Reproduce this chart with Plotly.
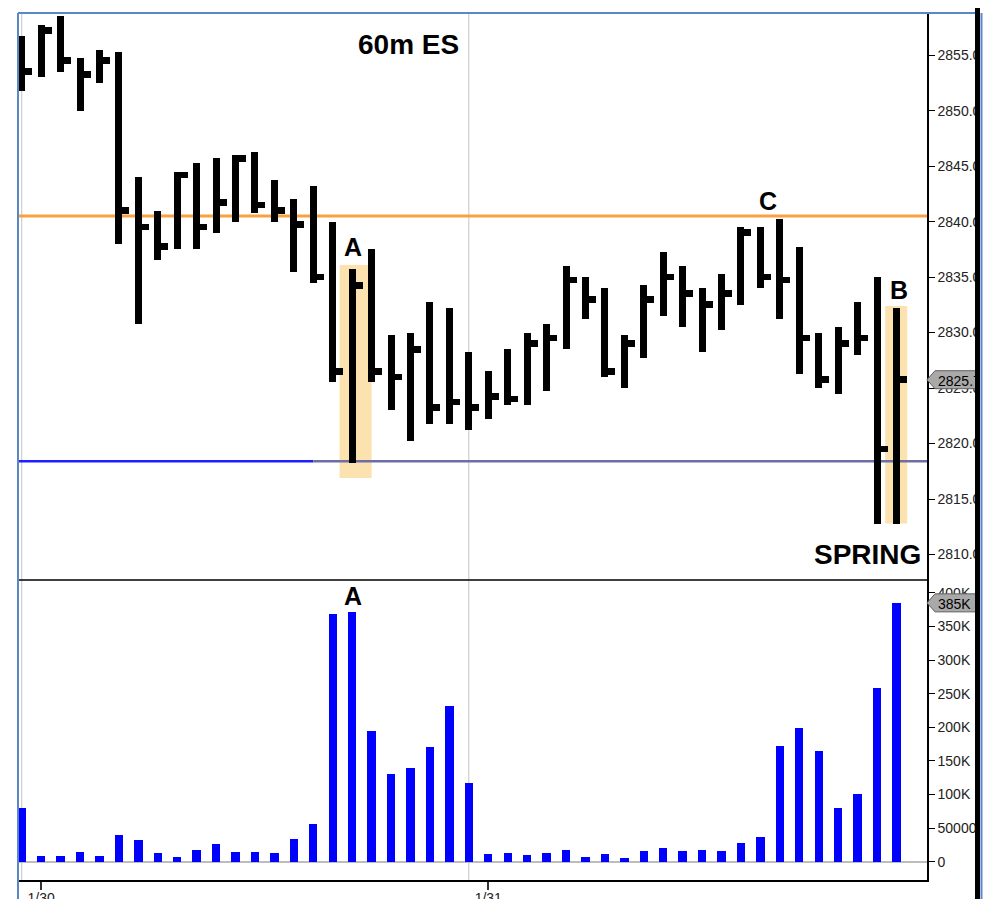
import plotly.graph_objects as go

# ---------------- data ----------------
bar_index = list(range(46))
highs = [2856.75, 2857.75, 2858.5, 2854.75, 2855.5, 2855.25, 2844.0, 2841.0, 2844.5, 2845.25,
         2845.75, 2846.0, 2846.25, 2843.75, 2842.0, 2843.25, 2840.0, 2835.75, 2837.5, 2829.75,
         2830.0, 2832.75, 2832.25, 2828.25, 2826.5, 2828.5, 2830.0, 2830.75, 2836.0, 2835.0,
         2834.0, 2829.75, 2834.25, 2837.25, 2836.0, 2834.0, 2835.25, 2839.5, 2839.5, 2840.25,
         2837.75, 2830.0, 2830.5, 2832.75, 2835.0, 2832.25]
lows = [2851.75, 2853.0, 2853.5, 2850.0, 2852.5, 2838.0, 2830.75, 2836.5, 2837.5, 2837.5,
        2839.0, 2840.0, 2840.75, 2840.0, 2835.5, 2834.5, 2825.5, 2818.25, 2825.5, 2823.0,
        2820.25, 2821.75, 2821.75, 2821.25, 2822.25, 2823.5, 2823.5, 2824.75, 2828.5, 2831.25,
        2826.0, 2825.0, 2827.75, 2831.5, 2830.5, 2828.25, 2830.25, 2832.5, 2834.0, 2831.25,
        2826.25, 2825.0, 2824.5, 2828.0, 2812.75, 2812.75]
closes = [2853.5, 2857.25, 2854.5, 2853.25, 2854.5, 2841.0, 2839.5, 2837.75, 2844.25, 2839.5,
          2841.75, 2845.75, 2841.5, 2841.0, 2839.75, 2835.0, 2826.5, 2834.25, 2826.5, 2826.0,
          2828.5, 2823.25, 2823.75, 2823.25, 2824.25, 2824.0, 2829.0, 2829.5, 2834.75, 2833.0,
          2826.5, 2829.0, 2833.0, 2835.0, 2833.5, 2832.5, 2833.5, 2839.0, 2835.0, 2834.75,
          2829.5, 2825.75, 2829.0, 2829.5, 2819.5, 2825.75]
volumes = [79400, 8900, 8900, 14900, 8900, 39700, 31800, 12900, 7000, 16900,
           25800, 14900, 14900, 12900, 33800, 56500, 367900, 371800, 194400, 130900,
           138900, 170100, 232000, 116600, 11000, 13400, 9500, 13400, 17400, 7000,
           11000, 5000, 15500, 19900, 15500, 17400, 15500, 27800, 36300, 172000,
           198800, 164200, 79400, 100200, 258700, 385000]

date_tick_bars = [1, 24]
date_tick_labels = ["1/30", "1/31"]
session_start_bars = [0, 23]

price_ticks = [2810, 2815, 2820, 2825, 2830, 2835, 2840, 2845, 2850, 2855]
volume_ticks = [0, 50000, 100000, 150000, 200000, 250000, 300000, 350000, 400000]
volume_tick_labels = ["0", "50000", "100K", "150K", "200K", "250K", "300K", "350K", "400K"]

resistance_level = 2840.5
support_level = 2818.4
support_split_bar = 15

# highlight boxes (x0, x1, y0, y1) in bar/price units
highlights = [(16.35, 18.0, 2816.9, 2836.1), (44.42, 45.55, 2812.8, 2832.4)]

# ---------------- layout geometry ----------------
OFF = 8                       # page body margin
W, H = 991 - OFF, 899 - OFF
ML, MR, MT, MB = 19 - OFF, 64, 13 - OFF, 19
PW = W - ML - MR
PH = H - MT - MB
VOL_FRAC = 300 / PH
x_range = [-0.14, 46.57]
price_range = [2807.7, 2858.8]
vol_range = [-27200, 419000]

def px_x(px):  # page pixel -> paper x
    return (px - OFF - ML) / PW

def px_y(py):  # page pixel -> paper y
    return (H - MB - (py - OFF)) / PH

FONT = "Arial, 'Liberation Sans', sans-serif"

# ---------------- traces ----------------
hl_base = lows
hl_len = [h - l for h, l in zip(highs, lows)]
tick_h = 0.6
tick_base = [min(max(c - tick_h / 2, l), h - tick_h) for c, l, h in zip(closes, lows, highs)]

fig = go.Figure()
fig.add_trace(go.Bar(x=bar_index, y=hl_len, base=hl_base, width=0.36,
                     marker=dict(color="black", line=dict(width=0)),
                     xaxis="x", yaxis="y", hoverinfo="skip", showlegend=False))
fig.add_trace(go.Bar(x=bar_index, y=[tick_h] * len(bar_index), base=tick_base, width=0.54,
                     offset=0, marker=dict(color="black", line=dict(width=0)),
                     xaxis="x", yaxis="y", hoverinfo="skip", showlegend=False))
fig.add_trace(go.Bar(x=bar_index, y=volumes, width=0.43,
                     marker=dict(color="#0000FF", line=dict(width=0)),
                     xaxis="x", yaxis="y2", hoverinfo="skip", showlegend=False))

# ---------------- shapes ----------------
shapes = []
for (x0, x1, y0, y1) in highlights:
    shapes.append(dict(type="rect", xref="x", yref="y", x0=x0, x1=x1, y0=y0, y1=y1,
                       fillcolor="#FCE2AE", line=dict(width=0), layer="below"))
for b in session_start_bars:
    shapes.append(dict(type="line", xref="x", yref="paper", x0=b, x1=b, y0=0, y1=1,
                       line=dict(color="#C4C4C4", width=1), layer="below"))
shapes.append(dict(type="line", xref="paper", yref="y", x0=0, x1=1,
                   y0=resistance_level, y1=resistance_level,
                   line=dict(color="#F9A03F", width=3), layer="below"))
shapes.append(dict(type="line", xref="x", yref="y", x0=x_range[0], x1=support_split_bar,
                   y0=support_level, y1=support_level,
                   line=dict(color="#1F1FFF", width=2.5), layer="below"))
shapes.append(dict(type="line", xref="x", yref="y", x0=support_split_bar, x1=x_range[1],
                   y0=support_level, y1=support_level,
                   line=dict(color="#6E6EA6", width=2.5), layer="below"))
# pane separator
shapes.append(dict(type="line", xref="paper", yref="paper", x0=0, x1=1,
                   y0=VOL_FRAC, y1=VOL_FRAC, line=dict(color="black", width=1.5)))
# last value markers
last_close = closes[-1]
last_vol = volumes[-1]
ph = 9 / (PH * (1 - VOL_FRAC)) * (price_range[1] - price_range[0])
vh = 9 / (PH * VOL_FRAC) * (vol_range[1] - vol_range[0])
xa, xb, xc = px_x(927), px_x(935), px_x(980)
for val, hh, yref, txt in [(last_close, ph, "y", f"{last_close:.2f}"),
                           (last_vol, vh, "y2", f"{round(last_vol / 1000)}K")]:
    path = (f"M {xa},{val} L {xb},{val + hh} L {xc},{val + hh} "
            f"L {xc},{val - hh} L {xb},{val - hh} Z")
    shapes.append(dict(type="path", xref="paper", yref=yref, path=path,
                       fillcolor="#A9A9A9", line=dict(color="#5E5E5E", width=1),
                       label=dict(text=txt, font=dict(family=FONT, size=14, color="black"),
                                  textposition="middle left", padding=8)))
# right black border + white margin
shapes.append(dict(type="rect", xref="paper", yref="paper", x0=px_x(975), x1=px_x(980),
                   y0=px_y(905), y1=px_y(0), fillcolor="black", line=dict(width=0)))
shapes.append(dict(type="rect", xref="paper", yref="paper", x0=px_x(980), x1=px_x(995),
                   y0=px_y(905), y1=px_y(0), fillcolor="white", line=dict(width=0)))
shapes.append(dict(type="line", xref="paper", yref="paper", x0=px_x(981.5), x1=px_x(981.5),
                   y0=px_y(905), y1=px_y(13), line=dict(color="#5B87C7", width=2)))
# blue frame top and left
shapes.append(dict(type="line", xref="paper", yref="paper", x0=px_x(18), x1=px_x(975),
                   y0=px_y(13), y1=px_y(13), line=dict(color="#5B87C7", width=2)))
shapes.append(dict(type="line", xref="paper", yref="paper", x0=px_x(18), x1=px_x(18),
                   y0=px_y(13), y1=px_y(905), line=dict(color="#5B87C7", width=2)))

# ---------------- annotations ----------------
def label(text, x, y, size, yref="y"):
    return dict(text=f"<b>{text}</b>", x=x, y=y, xref="x", yref=yref, showarrow=False,
                font=dict(family=FONT, size=size, color="black"),
                xanchor="center", yanchor="middle")

annotations = [
    label("60m ES", 19.9, 2856.0, 28),
    label("A", 17.05, 2837.7, 25),
    label("C", 38.4, 2841.9, 25),
    label("B", 45.13, 2833.8, 25),
    label("SPRING", 43.5, 2810.0, 28),
    label("A", 17.05, 395000, 25, yref="y2"),
]

fig.update_layout(
    width=W, height=H, autosize=False,
    margin=dict(l=ML, r=MR, t=MT, b=MB, pad=0, autoexpand=False),
    paper_bgcolor="white", plot_bgcolor="white",
    barmode="overlay", bargap=0, showlegend=False,
    font=dict(family=FONT, size=14, color="#222222"),
    xaxis=dict(domain=[0, 1], anchor="y2", range=x_range, tickmode="array",
               tickvals=date_tick_bars, ticktext=date_tick_labels, automargin=False,
               ticks="outside", ticklen=8, tickwidth=1.5, tickcolor="#333333",
               ticklabelstandoff=-4,
               showline=True, linecolor="black", linewidth=1.5,
               showgrid=False, zeroline=False, tickfont=dict(size=14, color="#222222")),
    yaxis=dict(domain=[VOL_FRAC, 1], anchor="x", side="right", range=price_range,
               tickmode="array", tickvals=price_ticks, tickformat=".1f", automargin=False,
               ticks="outside", ticklen=6, tickwidth=1, tickcolor="black",
               showline=True, linecolor="black", linewidth=1.5,
               showgrid=False, zeroline=False, tickfont=dict(size=14, color="#222222")),
    yaxis2=dict(domain=[0, VOL_FRAC], anchor="x", side="right", range=vol_range,
                tickmode="array", tickvals=volume_ticks, ticktext=volume_tick_labels,
                automargin=False,
                ticks="outside", ticklen=6, tickwidth=1, tickcolor="black",
                showline=True, linecolor="black", linewidth=1.5,
                showgrid=False, zeroline=True, zerolinecolor="#BDBDBD", zerolinewidth=1.5,
                tickfont=dict(size=14, color="#222222")),
    shapes=shapes,
    annotations=annotations,
)

fig.write_html("out.html")
